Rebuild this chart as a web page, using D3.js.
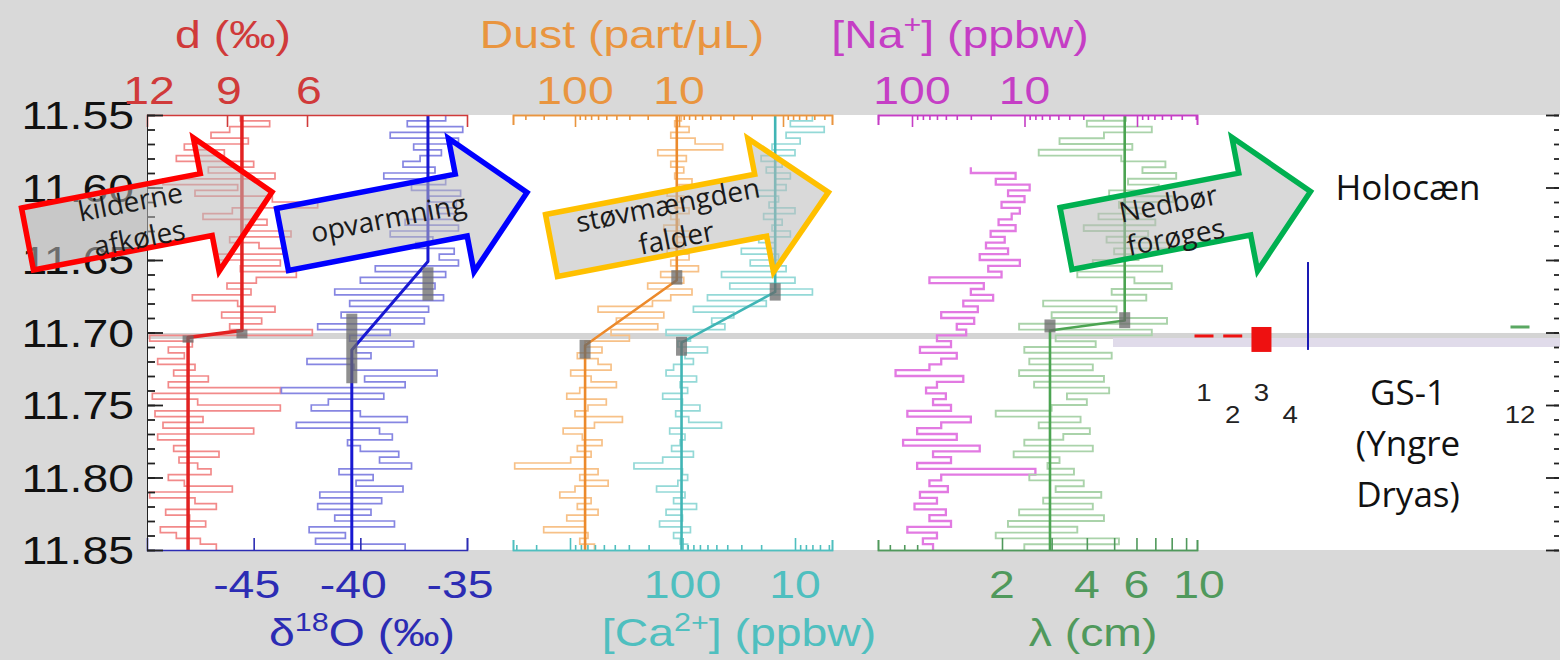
<!DOCTYPE html>
<html>
<head>
<meta charset="utf-8">
<title>Overgang GS-1 / Holocæn</title>
<script src="https://cdn.jsdelivr.net/npm/d3@7"></script>
<style>
  body { margin: 0; background: #d9d9d9; }
  #figure svg { display: block; }
</style>
</head>
<body>
<div id="figure"></div>
<script>
// ========= Data =========

// Depth axis (m) and sampling grid of the records
const depthTop = 11.55;
const depthBottom = 11.85;
const sampleStep = 0.004;
const depthLabels = [11.55, 11.60, 11.65, 11.70, 11.75, 11.80, 11.85];
const boundaryDepth = 11.7024;

// d-excess (permil), Holocene part then GS-1 part
const dExcessHolocene = [8.5, 7.4, 8.9, 9.6, 8.2, 10.6, 9.1, 10.9, 8.0, 9.7, 7.2, 11.4, 8.6, 10.2, 7.3, 5.6, 8.8, 9.9, 7.5, 8.3,
    6.6, 8.9, 7.8, 6.9, 9.4, 7.0, 8.5, 6.4, 7.9, 9.0, 8.1, 10.3, 8.6, 7.2, 9.2, 7.7, 8.9, 5.8];
const dExcessYD = [11.9, 10.3, 11.2, 10.6, 11.6, 10.2, 11.0, 9.7, 11.2, 7.0, 11.8, 10.1, 7.0, 11.7, 9.9, 11.4, 8.0, 11.6, 10.5,
    11.0, 9.3, 10.8, 10.1, 9.6, 11.2, 10.6, 8.8, 11.9, 10.2, 9.4, 11.3, 10.4, 9.8, 11.5, 10.9, 10.0, 9.4];

// d18O (permil)
const d18OHolocene = [-36.0, -37.8, -35.2, -38.6, -35.4, -37.5, -36.2, -37.2, -38.0, -36.5, -38.9, -36.0, -37.6, -35.3, -36.8,
    -35.5, -36.4, -35.6, -37.9, -35.4, -38.6, -36.6, -37.4, -35.6, -36.3, -35.4, -39.3, -36.0, -40.0, -36.5, -41.2, -36.1,
    -40.5, -36.8, -40.9, -37.0, -42.0, -38.6];
const d18OYD = [-40.5, -37.5, -40.2, -39.5, -42.5, -40.3, -36.4, -39.8, -37.9, -43.7, -38.9, -41.5, -42.3, -40.0, -37.8, -43.0,
    -39.1, -38.5, -40.6, -40.0, -38.2, -39.1, -37.6, -41.0, -39.4, -40.2, -38.0, -41.9, -39.0, -42.0, -39.5, -41.2, -38.4,
    -42.4, -40.7, -42.1, -37.9];

// Dust (part/uL)
const dustHolocene = [9.5, 11, 8, 12, 7, 3.8, 16, 8.5, 12, 9, 11, 7.5, 10, 13, 9, 11, 8, 12, 10, 14, 7, 11, 9, 13, 8, 12, 6.5,
    15, 9, 20, 7.5, 12, 18, 60, 14, 40, 16, 45];
const dustYD = [30, 80, 55, 95, 60, 45, 110, 70, 40, 90, 120, 50, 75, 100, 35, 65, 130, 85, 55, 95, 70, 110, 380, 60, 90, 48,
    100, 140, 70, 95, 60, 120, 80, 200, 75, 90, 65];

// [Ca2+] (ppbw)
const calciumHolocene = [7, 11, 5.5, 12, 9, 16, 10, 20, 13, 18, 11, 15, 12, 22, 14, 17, 10, 19, 13, 16, 11, 21, 15, 30, 14, 25,
    12, 45, 10, 38, 7, 60, 18, 80, 35, 55, 42, 140];
const calciumYD = [85, 110, 60, 95, 80, 120, 140, 75, 105, 90, 150, 100, 70, 115, 88, 45, 130, 95, 105, 125, 80, 150, 270, 100,
    90, 110, 170, 95, 120, 75, 140, 100, 160, 85, 120, 105, 90];

// [Na+] (ppbw), record starts a bit below the top
const sodiumStartIndex = 9;
const sodiumHolocene = [30, 12, 18, 9, 14, 10, 16, 11, 13, 17, 12, 20, 15, 22, 14, 25, 11, 21, 16, 70, 23, 30, 19, 35, 26, 55,
    28, 40, 33];
const sodiumYD = [60, 45, 85, 40, 55, 70, 140, 35, 60, 75, 50, 65, 45, 110, 30, 55, 90, 40, 120, 25, 65, 45, 90, 8, 55, 70, 48,
    85, 60, 95, 50, 70, 45, 110, 60, 80, 65];

// Annual layer thickness lambda (cm)
const lambdaHolocene = [5.5, 4.0, 6.8, 4.6, 3.2, 5.8, 2.7, 5.3, 7.6, 6.3, 8.3, 5.6, 7.2, 4.8, 8.1, 5.2, 6.4, 4.4, 7.0, 3.9, 6.6,
    4.7, 7.8, 5.0, 6.1, 4.2, 7.4, 3.7, 5.9, 8.0, 4.9, 6.5, 2.8, 5.1, 3.0, 7.7, 2.3, 6.8];
const lambdaYD = [3.1, 4.3, 2.4, 4.9, 2.5, 4.2, 2.3, 4.6, 2.6, 4.8, 3.4, 4.0, 3.0, 1.9, 3.8, 2.7, 4.1, 3.3, 2.4, 4.2, 2.2, 3.2,
    2.9, 3.6, 2.5, 3.9, 3.1, 4.5, 2.8, 4.2, 2.3, 4.6, 2.1, 3.7, 1.9, 5.2, 2.4];

// Fitted shifts: [level above, level below, shift start depth, shift end depth]
const dExcessShift = [8.44, 10.46, 11.6986, 11.7034];
const d18OShift = [-36.83, -40.4, 11.651, 11.712];
const dustShift = [10.5, 80, 11.664, 11.709];
const calciumShift = [15, 102, 11.672, 11.707];
const lambdaShift = [5.45, 2.96, 11.6917, 11.6986];

// Uncertainty of the shift points: [value, depth from, depth to]
const dExcessMarks = [[8.44, 11.698, 11.704], [10.46, 11.702, 11.707]];
const d18OMarks = [[-36.83, 11.655, 11.678], [-40.4, 11.687, 11.735]];
const dustMarks = [[10.5, 11.657, 11.667], [80, 11.705, 11.718]];
const calciumMarks = [[15, 11.666, 11.678], [102, 11.703, 11.716]];
const lambdaMarks = [[5.45, 11.686, 11.697], [2.96, 11.691, 11.700]];

// Tick labels
const dExcessTickLabels = [12, 9, 6];
const d18OTickLabels = [-45, -40, -35];
const dustTickLabels = [100, 10];
const calciumTickLabels = [100, 10];
const sodiumTickLabels = [100, 10];
const lambdaTickLabels = [2, 4, 6, 10];

// Cropped layer-count panel on the right (layer numbers)
const layerLabels = [1, 2, 3, 4, 12];
const layerRedDashes = [1, 2];
const layerRedBox = [3, 11.6962, 11.7134];
const layerGreenDash = [12, 11.6962];
const layerBlueLine = [4.62, 11.6514, 11.712];


// ========= Styling =========
const figureFont = "'Liberation Sans', Arial, Helvetica, sans-serif";
const noteFont = "'Open Sans', 'Noto Sans', sans-serif";
const textStretch = 1.22;   // the source figure is stretched horizontally
const arrowAngle = -10.9;


function GenerateFigure() {
    const width = 1560;
    const height = 660;
    const plotTop = 115;
    const plotBottom = 550;
    const plotLeft = 147;
    const plotRight = 1560;

    const svg = d3.select("#figure")
        .append("svg")
        .attr("width", width)
        .attr("height", height);

    // gray page and white plotting area
    svg.append("rect").attr("width", width).attr("height", height).attr("fill", "#d9d9d9");
    svg.append("rect")
        .attr("x", plotLeft).attr("y", plotTop)
        .attr("width", plotRight - plotLeft).attr("height", plotBottom - plotTop)
        .attr("fill", "#ffffff");

    // depth scale (shared by every panel)
    const y = d3.scaleLinear().domain([depthTop, depthBottom]).range([plotTop, plotBottom]);

    // the GS-1 / Holocene boundary band
    svg.append("rect")
        .attr("x", plotLeft).attr("y", y(boundaryDepth) - 3)
        .attr("width", plotRight - plotLeft).attr("height", 6)
        .attr("fill", "#d4d4d4");
    svg.append("rect")
        .attr("x", 1113).attr("y", y(boundaryDepth) + 2)
        .attr("width", plotRight - 1113).attr("height", 9)
        .attr("fill", "#e0dbea");

    // x scales of the six records
    const xD = d3.scaleLinear().domain([12, 0]).range([147, 467]);
    const xO = d3.scaleLinear().domain([-50, -35]).range([147, 467]);
    const xDust = VisibleLog([100, 1], [575, 783], 513, 832);
    const xCa = VisibleLog([1000, 10], [570, 795], 513, 832);
    const xNa = VisibleLog([100, 1], [912, 1137], 878, 1197);
    const xLam = VisibleLog([2, 10], [1002, 1199], 878, 1197);

    // colours
    const red = "#e22222", redLight = "#f28a8a", redText = "#d03a3a";
    const blue = "#1818d2", blueLight = "#8686e2", blueText = "#2c2cb4";
    const orange = "#ec8a2c", orangeLight = "#f7c188", orangeText = "#e9953f";
    const teal = "#40b5b5", tealLight = "#94d9d7", tealText = "#4fbfbf";
    const magentaLight = "#e27ae2", magentaText = "#c53ec5";
    const green = "#4ca452", greenLight = "#aad3aa", greenText = "#50995c";

    // raw records as step lines
    DrawSeries(svg, xD, y, dExcessHolocene.concat(dExcessYD), 0, redLight, 1.7);
    DrawSeries(svg, xO, y, d18OHolocene.concat(d18OYD), 0, blueLight, 1.7);
    DrawSeries(svg, xDust, y, dustHolocene.concat(dustYD), 0, orangeLight, 1.7);
    DrawSeries(svg, xCa, y, calciumHolocene.concat(calciumYD), 0, tealLight, 1.7);
    DrawSeries(svg, xNa, y, sodiumHolocene.concat(sodiumYD), sodiumStartIndex, magentaLight, 2.3);
    DrawSeries(svg, xLam, y, lambdaHolocene.concat(lambdaYD), 0, greenLight, 1.9);

    // fitted ramps
    DrawShift(svg, xD, y, dExcessShift, red, 3.5);
    DrawShift(svg, xO, y, d18OShift, blue, 3);
    DrawShift(svg, xDust, y, dustShift, orange, 2.6);
    DrawShift(svg, xCa, y, calciumShift, teal, 2.6);
    DrawShift(svg, xLam, y, lambdaShift, green, 2.6);

    // uncertainty of the shift points
    [[xD, dExcessMarks], [xO, d18OMarks], [xDust, dustMarks], [xCa, calciumMarks], [xLam, lambdaMarks]]
        .forEach(([scale, marks]) => DrawMarks(svg, scale, y, marks));

    // ---- axes of the records ----
    DrawLinearAxis(svg, xD, plotTop, true, [9, 6], redText);
    DrawLinearAxis(svg, xO, plotBottom, false, d18OTickLabels, blueText);
    DrawLogAxis(svg, xDust, plotTop, true, orangeText, IsDecade);
    DrawLogAxis(svg, xCa, plotBottom, false, tealText, IsDecade);
    DrawLogAxis(svg, xNa, plotTop, true, magentaText, IsDecade);
    DrawLogAxis(svg, xLam, plotBottom, false, greenText, v => v >= 2);

    // depth axes left and right
    DrawDepthAxis(svg, y, plotLeft, true);
    DrawDepthAxis(svg, y, plotRight - 1, false);

    depthLabels.forEach(v => AddText(svg, 134, y(v) + 14, [d3.format(".2f")(v)], "#111111", "end"));

    // tick labels
    dExcessTickLabels.forEach(v => AddText(svg, xD(v) + 2, 104, [String(v)], redText));
    d18OTickLabels.forEach(v => AddText(svg, xO(v) - 7, 598, [String(v)], blueText));
    dustTickLabels.forEach(v => AddText(svg, xDust(v), 104, [String(v)], orangeText));
    calciumTickLabels.forEach(v => AddText(svg, xCa(v), 598, [String(v)], tealText));
    sodiumTickLabels.forEach(v => AddText(svg, xNa(v), 104, [String(v)], magentaText));
    lambdaTickLabels.forEach(v => AddText(svg, xLam(v), 598, [String(v)], greenText));

    // axis titles
    AddText(svg, 233, 48, ["d (‰)"], redText);
    AddText(svg, 622, 48, ["Dust (part/μL)"], orangeText);
    AddText(svg, 960, 48, ["[Na", { sup: "+" }, "] (ppbw)"], magentaText);
    AddText(svg, 362, 646, ["δ", { sup: "18" }, "O (‰)"], blueText);
    AddText(svg, 739, 646, ["[Ca", { sup: "2+" }, "] (ppbw)"], tealText);
    AddText(svg, 1093, 646, ["λ (cm)"], greenText);

    // ---- cropped layer panel on the right ----
    const layerX = d3.scaleLinear().domain([1, 12]).range([1204, 1520]);
    layerRedDashes.forEach(l => {
        svg.append("rect")
            .attr("x", layerX(l) - 9.5).attr("y", y(boundaryDepth) - 1.5)
            .attr("width", 19).attr("height", 3)
            .attr("fill", "#ee1111");
    });
    svg.append("rect")
        .attr("x", layerX(layerRedBox[0]) - 10).attr("y", y(layerRedBox[1]))
        .attr("width", 20).attr("height", y(layerRedBox[2]) - y(layerRedBox[1]))
        .attr("fill", "#ee1111");
    svg.append("rect")
        .attr("x", layerX(layerGreenDash[0]) - 9.5).attr("y", y(layerGreenDash[1]) - 1.5)
        .attr("width", 19).attr("height", 3)
        .attr("fill", "#5aa862");
    svg.append("line")
        .attr("x1", layerX(layerBlueLine[0])).attr("x2", layerX(layerBlueLine[0]))
        .attr("y1", y(layerBlueLine[1])).attr("y2", y(layerBlueLine[2]))
        .attr("stroke", "#1a1ab4").attr("stroke-width", 2);

    layerLabels.forEach((l, i) => {
        svg.append("text")
            .attr("transform", `translate(${layerX(l)},${i % 2 == 0 && l != 12 ? 401 : 423}) scale(1.15,1)`)
            .attr("text-anchor", "middle")
            .attr("fill", "#222222")
            .style("font-family", figureFont)
            .style("font-size", "24px")
            .text(l);
    });

    // period names
    AddNote(svg, 1408, 200, "Holocæn");
    AddNote(svg, 1408, 405, "GS-1");
    AddNote(svg, 1408, 456, "(Yngre");
    AddNote(svg, 1408, 507, "Dryas)");

    // ---- block arrows with the interpretation ----
    const arrows = [
        { x: 27.5, y: 239, len: 249, shaft: 182, color: "#ff0000", lines: [["kilderne", 108, -7], ["afkøles", 110, 30]] },
        { x: 282.5, y: 239.5, len: 249, shaft: 182, color: "#0000ff", lines: [["opvarmning", 108, 9]] },
        { x: 551.5, y: 245.5, len: 282, shaft: 213, color: "#ffc000", lines: [["støvmængden", 122, -8], ["falder", 124, 26]] },
        { x: 1066, y: 238.5, len: 249, shaft: 182, color: "#00b050", lines: [["Nedbør", 107, -5], ["forøges", 108, 29]] }
    ];
    arrows.forEach(a => DrawArrow(svg, a));
}


// ========= Helper Functions ===========

function VisibleLog(domain, range, x0, x1)
/* Log scale fixed by two known tick positions, re-expressed over the drawn axis length x0..x1 */ {
    const s = d3.scaleLog().domain(domain).range(range);
    return s.copy().domain([s.invert(x0), s.invert(x1)]).range([x0, x1]);
}

function IsDecade(v) {
    const l = Math.log10(v);
    return Math.abs(l - Math.round(l)) < 1e-6;
}

function DrawSeries(svg, scale, y, values, startIndex, color, strokeWidth)
/* Step line of a record, every value held over one sample interval */ {
    const pts = values.map((v, i) => [scale(v), y(depthTop + (startIndex + i) * sampleStep)]);
    pts.push([scale(values[values.length - 1]), y(depthBottom)]);

    svg.append("path")
        .attr("d", d3.line().curve(d3.curveStepBefore)(pts))
        .attr("fill", "none")
        .attr("stroke", color)
        .attr("stroke-width", strokeWidth);
}

function DrawShift(svg, scale, y, shift, color, strokeWidth)
/* Constant level, linear ramp, constant level */ {
    const pts = [
        [scale(shift[0]), y(depthTop)],
        [scale(shift[0]), y(shift[2])],
        [scale(shift[1]), y(shift[3])],
        [scale(shift[1]), y(depthBottom)]
    ];
    svg.append("path")
        .attr("d", d3.line()(pts))
        .attr("fill", "none")
        .attr("stroke", color)
        .attr("stroke-width", strokeWidth)
        .attr("stroke-linejoin", "round");
}

function DrawMarks(svg, scale, y, marks) {
    svg.selectAll(null)
        .data(marks)
        .join("rect")
        .attr("x", d => scale(d[0]) - 5.5)
        .attr("y", d => y(d[1]))
        .attr("width", 11)
        .attr("height", d => y(d[2]) - y(d[1]))
        .attr("fill", "#6a6a6a")
        .attr("opacity", 0.75);
}

function DrawLinearAxis(svg, scale, yPos, top, ticks, color) {
    const axisFn = top ? d3.axisBottom : d3.axisTop;
    svg.append("g")
        .attr("transform", `translate(0,${yPos})`)
        .attr("color", color)
        .call(axisFn(scale).tickValues(ticks).tickSize(12).tickSizeOuter(12).tickFormat(""))
        .selectAll("path, line").attr("stroke-width", 1.6);
}

function DrawLogAxis(svg, scale, yPos, top, color, isMajor)
/* Axis along the top or bottom edge, ticks pointing into the plot */ {
    const axisFn = top ? d3.axisBottom : d3.axisTop;
    const ticks = scale.ticks();
    const g = svg.append("g")
        .attr("transform", `translate(0,${yPos})`)
        .attr("color", color);

    g.call(axisFn(scale).tickValues(ticks.filter(v => !isMajor(v))).tickSize(5).tickSizeOuter(10).tickFormat(""));
    g.append("g")
        .call(axisFn(scale).tickValues(ticks.filter(isMajor)).tickSize(12).tickSizeOuter(10).tickFormat(""));
    g.selectAll("path, line").attr("stroke-width", 1.6);
}

function DrawDepthAxis(svg, y, xPos, left) {
    const axisFn = left ? d3.axisRight : d3.axisLeft;
    const minor = y.ticks(30);
    const major = y.ticks(6);
    const g = svg.append("g")
        .attr("transform", `translate(${xPos},0)`)
        .attr("color", "#222222");

    g.call(axisFn(y).tickValues(minor).tickSize(left ? 8 : 5).tickSizeOuter(0).tickFormat(""));
    g.append("g").call(axisFn(y).tickValues(major).tickSize(left ? 16 : 13).tickSizeOuter(0).tickFormat(""));
    g.selectAll("line").attr("stroke-width", 1.8);
    if (!left) g.selectAll("path").remove();
}

function AddText(svg, x, y, parts, color, anchor)
/* Text of the source figure, slightly stretched sideways, with optional superscripts */ {
    const t = svg.append("text")
        .attr("transform", `translate(${x},${y}) scale(${textStretch},1)`)
        .attr("text-anchor", anchor || "middle")
        .attr("fill", color)
        .style("font-family", figureFont)
        .style("font-size", "38px");

    let raised = false;
    parts.forEach(p => {
        const span = t.append("tspan");
        if (typeof p === "object") {
            span.text(p.sup).attr("dy", -15).style("font-size", "25px");
            raised = true;
        } else {
            span.text(p);
            if (raised) {
                span.attr("dy", 15);
                raised = false;
            }
        }
    });
    return t;
}

function AddNote(svg, x, y, label) {
    svg.append("text")
        .attr("x", x).attr("y", y)
        .attr("text-anchor", "middle")
        .attr("fill", "#111111")
        .style("font-family", noteFont)
        .style("font-size", "35px")
        .text(label);
}

function DrawArrow(svg, arrow)
/* Block arrow drawn along its own axis, then turned into place */ {
    const shaftHalf = 31.5;
    const headHalf = 68;
    const g = svg.append("g")
        .attr("transform", `translate(${arrow.x},${arrow.y}) rotate(${arrowAngle})`);

    const outline = [
        [0, -shaftHalf], [arrow.shaft, -shaftHalf], [arrow.shaft, -headHalf],
        [arrow.len, 0],
        [arrow.shaft, headHalf], [arrow.shaft, shaftHalf], [0, shaftHalf]
    ];

    g.append("path")
        .attr("d", d3.line()(outline) + "Z")
        .attr("fill", "rgb(185,185,185)")
        .attr("fill-opacity", 0.55)
        .attr("stroke", arrow.color)
        .attr("stroke-width", 5.5)
        .attr("stroke-linejoin", "miter");

    arrow.lines.forEach(l => {
        g.append("text")
            .attr("x", l[1]).attr("y", l[2])
            .attr("text-anchor", "middle")
            .attr("fill", "#1a1a1a")
            .style("font-family", noteFont)
            .style("font-size", "28px")
            .text(l[0]);
    });
}

GenerateFigure();
</script>
</body>
</html>
